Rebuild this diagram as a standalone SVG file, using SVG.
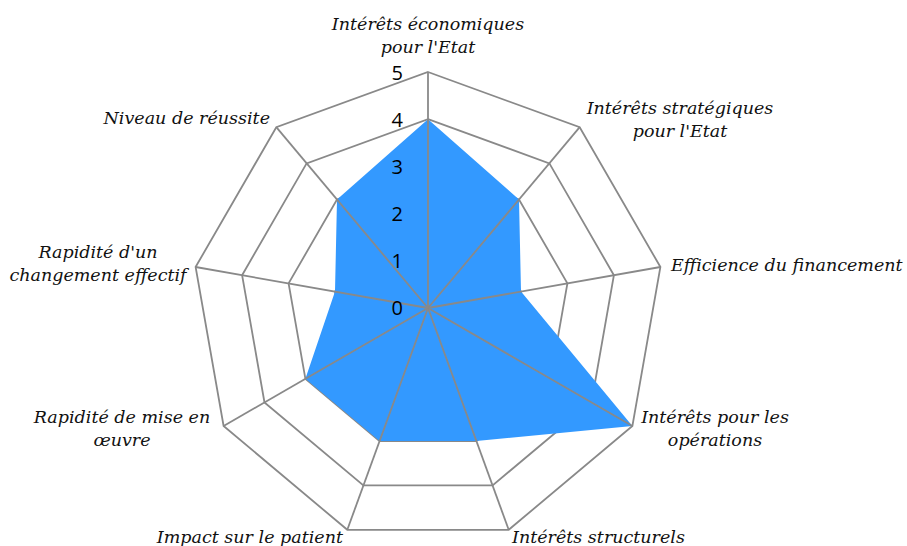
<svg xmlns="http://www.w3.org/2000/svg" width="907" height="546" viewBox="0 0 907 546">
<style>
.ring{fill:none;stroke:#898989;stroke-width:1.8;stroke-linejoin:miter}
.spoke{stroke:#898989;stroke-width:1.8}
.lbl{font-family:"DejaVu Serif","Liberation Serif",serif;font-style:italic;font-size:17.5px;fill:#111}
.num{font-family:"Open Sans","Liberation Sans",sans-serif;font-size:20px;fill:#000;text-anchor:end}
</style>
<rect width="907" height="546" fill="#fff"/>
<g id="grid">
<polygon class="ring" points="428,72 579.7,127.2 660.4,267 632.4,426 508.7,529.8 347.3,529.8 223.6,426 195.6,267 276.3,127.2"/>
<polygon class="ring" points="428,119.2 549.4,163.4 613.9,275.2 591.5,402.4 492.6,485.4 363.4,485.4 264.5,402.4 242.1,275.2 306.6,163.4"/>
<polygon class="ring" points="428,166.4 519,199.5 567.4,283.4 550.6,378.8 476.4,441.1 379.6,441.1 305.4,378.8 288.6,283.4 337,199.5"/>
<polygon class="ring" points="428,213.6 488.7,235.7 521,291.6 509.8,355.2 460.3,396.7 395.7,396.7 346.2,355.2 335,291.6 367.3,235.7"/>
<polygon class="ring" points="428,260.8 458.3,271.8 474.5,299.8 468.9,331.6 444.1,352.4 411.9,352.4 387.1,331.6 381.5,299.8 397.7,271.8"/>
</g>
<g id="series">
<polygon fill="#3399FF" points="428,119.2 519,199.5 521,291.6 632.4,426 476.4,441.1 379.6,441.1 305.4,378.8 335,291.6 337,199.5"/>
</g>
<g id="spokes">
<line class="spoke" x1="428" y1="308" x2="428" y2="72"/>
<line class="spoke" x1="428" y1="308" x2="579.7" y2="127.2"/>
<line class="spoke" x1="428" y1="308" x2="660.4" y2="267"/>
<line class="spoke" x1="428" y1="308" x2="632.4" y2="426"/>
<line class="spoke" x1="428" y1="308" x2="508.7" y2="529.8"/>
<line class="spoke" x1="428" y1="308" x2="347.3" y2="529.8"/>
<line class="spoke" x1="428" y1="308" x2="223.6" y2="426"/>
<line class="spoke" x1="428" y1="308" x2="195.6" y2="267"/>
<line class="spoke" x1="428" y1="308" x2="276.3" y2="127.2"/>
</g>
<g id="scale">
<text class="num" x="403" y="80">5</text>
<text class="num" x="403" y="127">4</text>
<text class="num" x="403" y="174">3</text>
<text class="num" x="403" y="221">2</text>
<text class="num" x="403" y="268">1</text>
<text class="num" x="403" y="315">0</text>
</g>
<g id="labels">
<text class="lbl" text-anchor="middle" x="428" y="30">Intérêts économiques</text>
<text class="lbl" text-anchor="middle" x="428" y="53">pour l'Etat</text>
<text class="lbl" text-anchor="middle" x="680" y="114">Intérêts stratégiques</text>
<text class="lbl" text-anchor="middle" x="680" y="137">pour l'Etat</text>
<text class="lbl" x="671" y="271">Efficience du financement</text>
<text class="lbl" text-anchor="middle" x="715" y="423">Intérêts pour les</text>
<text class="lbl" text-anchor="middle" x="715" y="446">opérations</text>
<text class="lbl" x="512" y="543">Intérêts structurels</text>
<text class="lbl" text-anchor="end" x="343" y="543">Impact sur le patient</text>
<text class="lbl" text-anchor="middle" x="122" y="423">Rapidité de mise en</text>
<text class="lbl" text-anchor="middle" x="122" y="446">œuvre</text>
<text class="lbl" text-anchor="middle" x="98" y="258">Rapidité d'un</text>
<text class="lbl" text-anchor="middle" x="98" y="281">changement effectif</text>
<text class="lbl" text-anchor="end" x="270" y="124">Niveau de réussite</text>
</g>
</svg>
